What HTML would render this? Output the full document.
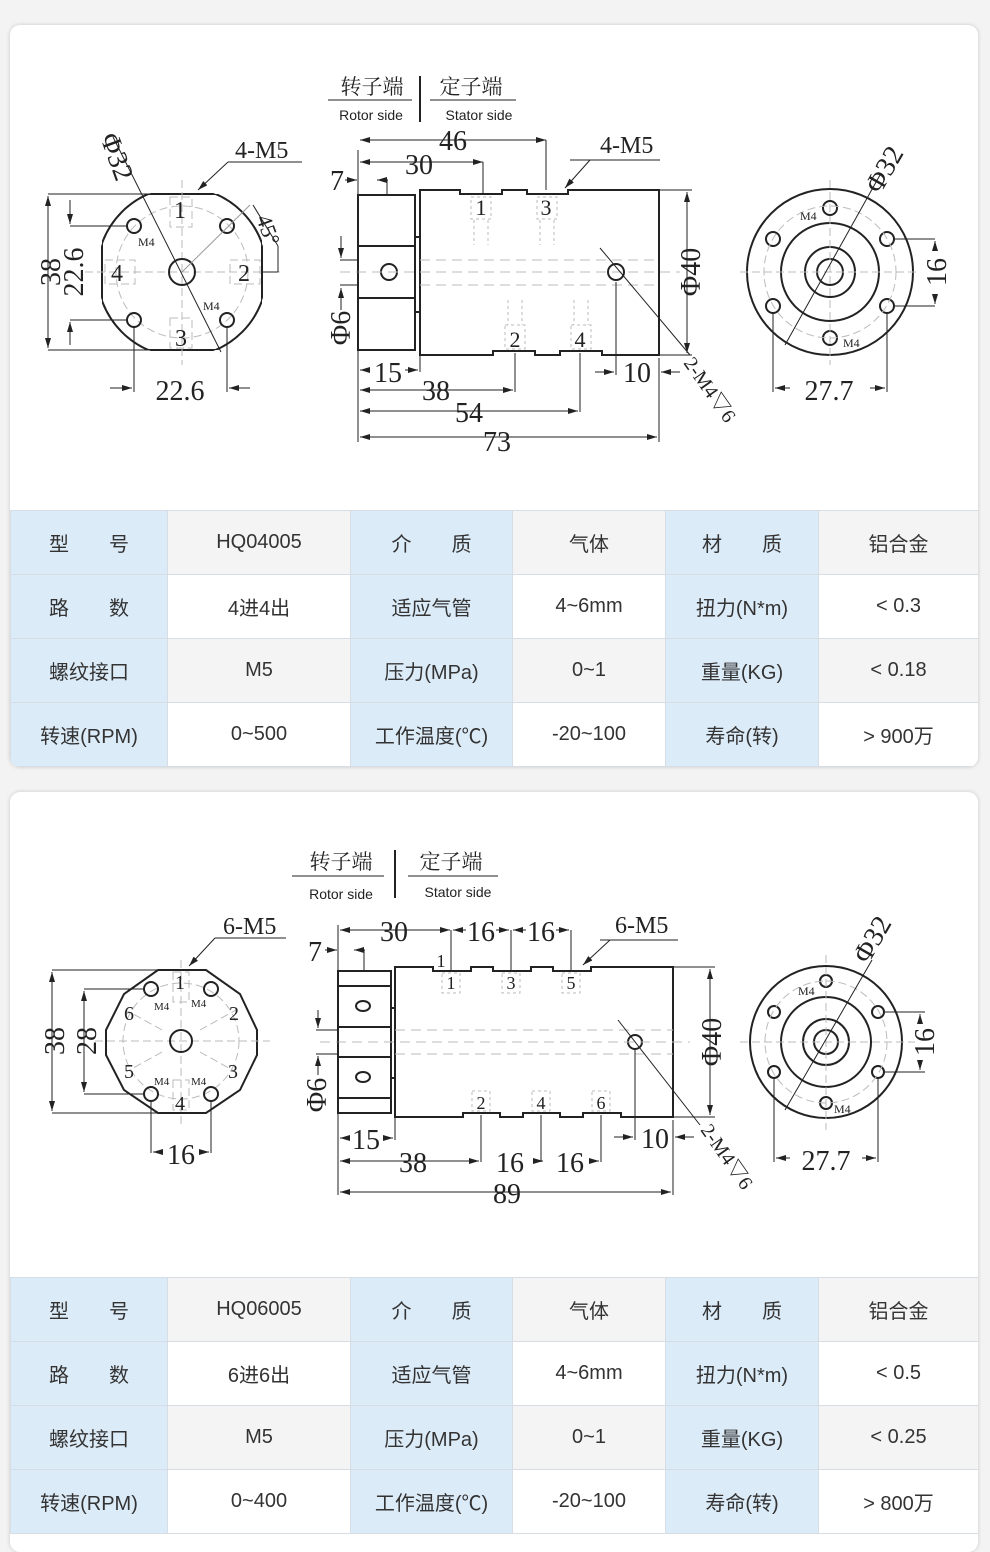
<!DOCTYPE html>
<html><head><meta charset="utf-8"><style>
body{margin:0;width:990px;height:1533px;background:#f3f3f3;position:relative;overflow:hidden;font-family:"Liberation Sans","Noto Sans CJK SC",sans-serif;}
.card{position:absolute;left:10px;width:968px;background:#fff;border-radius:10px;box-shadow:0 0 4px rgba(0,0,0,.18);overflow:hidden}
table{position:absolute;left:0;width:968px;border-collapse:collapse;table-layout:fixed}
td{height:63px;border:1px solid #d6dde4;text-align:center;font-size:20px;color:#333;padding:0}
td.b{background:#dcebf8}
tr.g td:not(.b){background:#f4f4f4}
svg{position:absolute;left:0;top:0}
svg text{font-family:"Liberation Serif","Noto Serif CJK SC",serif;fill:#222}
</style></head><body>
<div class="card" style="top:25px;height:742px">
<table style="top:485px">
<colgroup><col style="width:157px"><col style="width:183px"><col style="width:162px"><col style="width:153px"><col style="width:153px"><col style="width:160px"></colgroup>
<tr class="g"><td class="b">型&emsp;&emsp;号</td><td>HQ04005</td><td class="b">介&emsp;&emsp;质</td><td>气体</td><td class="b">材&emsp;&emsp;质</td><td>铝合金</td></tr>
<tr><td class="b">路&emsp;&emsp;数</td><td>4进4出</td><td class="b">适应气管</td><td>4~6mm</td><td class="b">扭力(N*m)</td><td>&lt; 0.3</td></tr>
<tr class="g"><td class="b">螺纹接口</td><td>M5</td><td class="b">压力(MPa)</td><td>0~1</td><td class="b">重量(KG)</td><td>&lt; 0.18</td></tr>
<tr><td class="b">转速(RPM)</td><td>0~500</td><td class="b">工作温度(℃)</td><td>-20~100</td><td class="b">寿命(转)</td><td>&gt; 900万</td></tr>
</table></div>
<div class="card" style="top:792px;height:760px">
<table style="top:485px">
<colgroup><col style="width:157px"><col style="width:183px"><col style="width:162px"><col style="width:153px"><col style="width:153px"><col style="width:160px"></colgroup>
<tr class="g"><td class="b">型&emsp;&emsp;号</td><td>HQ06005</td><td class="b">介&emsp;&emsp;质</td><td>气体</td><td class="b">材&emsp;&emsp;质</td><td>铝合金</td></tr>
<tr><td class="b">路&emsp;&emsp;数</td><td>6进6出</td><td class="b">适应气管</td><td>4~6mm</td><td class="b">扭力(N*m)</td><td>&lt; 0.5</td></tr>
<tr class="g"><td class="b">螺纹接口</td><td>M5</td><td class="b">压力(MPa)</td><td>0~1</td><td class="b">重量(KG)</td><td>&lt; 0.25</td></tr>
<tr><td class="b">转速(RPM)</td><td>0~400</td><td class="b">工作温度(℃)</td><td>-20~100</td><td class="b">寿命(转)</td><td>&gt; 800万</td></tr>
</table></div>

<svg width="990" height="1533" viewBox="0 0 990 1533">
<defs>
<marker id="a" viewBox="0 0 10 6" refX="10" refY="3" markerWidth="10" markerHeight="6" orient="auto-start-reverse" markerUnits="userSpaceOnUse"><path d="M0,0L10,3L0,6z" fill="#222"/></marker>
<clipPath id="c1"><circle cx="182" cy="272" r="85"/></clipPath>
<clipPath id="r1"><rect x="102" y="194" width="160" height="156"/></clipPath>
</defs>
<g stroke="#222" fill="none" stroke-width="1">
<line x1="420" y1="76" x2="420" y2="122" stroke-width="2"/>
<line x1="328" y1="100" x2="412" y2="100"/><line x1="430" y1="100" x2="516" y2="100"/>
<g stroke-width="2"><rect x="102" y="194" width="160" height="156" clip-path="url(#c1)"/><circle cx="182" cy="272" r="85" clip-path="url(#r1)"/></g>
<g stroke="#bbb" stroke-dasharray="8,4"><circle cx="182" cy="272" r="66"/><line x1="85" y1="272" x2="280" y2="272"/><line x1="182" y1="180" x2="182" y2="365"/>
<rect x="170" y="197" width="22" height="30"/><rect x="170" y="318" width="22" height="30"/><rect x="105" y="260" width="30" height="24"/><rect x="230" y="260" width="30" height="24"/></g>
<g stroke-width="2"><circle cx="182" cy="272" r="13"/><circle cx="134" cy="226" r="7"/><circle cx="227" cy="226" r="7"/><circle cx="134" cy="320" r="7"/><circle cx="227" cy="320" r="7"/></g>
<line x1="113" y1="137" x2="221" y2="352"/><line x1="182" y1="272" x2="250" y2="205" stroke="#999"/>
<line x1="48" y1="194" x2="160" y2="194"/><line x1="48" y1="350" x2="160" y2="350"/><line x1="48" y1="196" x2="48" y2="348" marker-start="url(#a)" marker-end="url(#a)"/>
<line x1="70" y1="226" x2="128" y2="226"/><line x1="70" y1="320" x2="128" y2="320"/><line x1="70" y1="200" x2="70" y2="224" marker-end="url(#a)"/><line x1="70" y1="345" x2="70" y2="322" marker-end="url(#a)"/>
<line x1="134" y1="326" x2="134" y2="392"/><line x1="227" y1="326" x2="227" y2="392"/><line x1="110" y1="388" x2="132" y2="388" marker-end="url(#a)"/><line x1="250" y1="388" x2="229" y2="388" marker-end="url(#a)"/>
<line x1="302" y1="162" x2="228" y2="162"/><line x1="228" y1="162" x2="198" y2="190" marker-end="url(#a)"/>
<line x1="253" y1="205" x2="278" y2="246"/><line x1="278" y1="246" x2="278" y2="272"/><line x1="262" y1="272" x2="278" y2="272"/>
<g stroke-width="2"><rect x="358" y="195" width="57" height="155"/><line x1="358" y1="246" x2="415" y2="246"/><line x1="358" y1="298" x2="415" y2="298"/>
<path d="M415,237h4M415,312h4"/>
<path d="M420,190H460V194H502V190H527V194H568V190H659V355H602V351H560V355H535V351H493V355H420Z"/>
<circle cx="389" cy="272" r="8"/><circle cx="616" cy="272" r="8"/></g>
<g stroke="#bbb" stroke-dasharray="10,6"><line x1="340" y1="272" x2="680" y2="272"/><line x1="420" y1="260" x2="659" y2="260"/><line x1="420" y1="285" x2="659" y2="285"/></g>
<g stroke="#bbb" stroke-dasharray="3,3"><rect x="471" y="197" width="20" height="22"/><rect x="537" y="197" width="20" height="22"/><rect x="505" y="325" width="20" height="24"/><rect x="571" y="325" width="20" height="24"/>
<path d="M474,220v25M488,220v25M540,220v25M554,220v25M508,300v25M522,300v25M574,300v25M588,300v25"/></g>
<line x1="600" y1="248" x2="690" y2="355"/>
<line x1="358" y1="150" x2="358" y2="442"/><line x1="659" y1="358" x2="659" y2="442"/>
<line x1="360" y1="140" x2="546" y2="140" marker-start="url(#a)" marker-end="url(#a)"/><line x1="546" y1="140" x2="546" y2="190"/>
<line x1="360" y1="162" x2="483" y2="162" marker-start="url(#a)" marker-end="url(#a)"/><line x1="483" y1="162" x2="483" y2="194"/>
<line x1="345" y1="180" x2="357" y2="180" marker-end="url(#a)"/><line x1="388" y1="180" x2="377" y2="180" marker-end="url(#a)"/><line x1="387" y1="180" x2="387" y2="195"/>
<line x1="660" y1="190" x2="692" y2="190"/><line x1="660" y1="355" x2="692" y2="355"/><line x1="687" y1="192" x2="687" y2="353" marker-start="url(#a)" marker-end="url(#a)"/>
<line x1="341" y1="236" x2="341" y2="258" marker-end="url(#a)"/><line x1="341" y1="310" x2="341" y2="288" marker-end="url(#a)"/><line x1="340" y1="260" x2="358" y2="260"/><line x1="340" y1="285" x2="358" y2="285"/>
<line x1="420" y1="355" x2="420" y2="372"/><line x1="360" y1="370" x2="370" y2="370" marker-start="url(#a)"/><line x1="405" y1="370" x2="418" y2="370" marker-end="url(#a)"/>
<line x1="515" y1="353" x2="515" y2="392"/><line x1="360" y1="390" x2="513" y2="390" marker-start="url(#a)" marker-end="url(#a)"/>
<line x1="580" y1="353" x2="580" y2="412"/><line x1="360" y1="411" x2="578" y2="411" marker-start="url(#a)" marker-end="url(#a)"/>
<line x1="360" y1="437" x2="657" y2="437" marker-start="url(#a)" marker-end="url(#a)"/>
<line x1="616" y1="282" x2="616" y2="375"/><line x1="595" y1="372" x2="614" y2="372" marker-end="url(#a)"/><line x1="680" y1="372" x2="661" y2="372" marker-end="url(#a)"/>
<line x1="570" y1="160" x2="660" y2="160"/><line x1="590" y1="160" x2="565" y2="188" marker-end="url(#a)"/>
<g stroke-width="2"><circle cx="830" cy="272" r="83"/><circle cx="830" cy="272" r="49"/><circle cx="830" cy="272" r="25"/><circle cx="830" cy="272" r="13"/>
<circle cx="830" cy="208" r="7"/><circle cx="773" cy="239" r="7"/><circle cx="887" cy="239" r="7"/><circle cx="773" cy="306" r="7"/><circle cx="887" cy="306" r="7"/><circle cx="830" cy="338" r="7"/></g>
<g stroke="#bbb" stroke-dasharray="8,4"><circle cx="830" cy="272" r="66"/><line x1="740" y1="272" x2="920" y2="272"/><line x1="830" y1="180" x2="830" y2="365"/></g>
<line x1="785" y1="345" x2="880" y2="175"/>
<line x1="773" y1="312" x2="773" y2="392"/><line x1="887" y1="312" x2="887" y2="392"/><line x1="775" y1="388" x2="790" y2="388" marker-start="url(#a)"/><line x1="870" y1="388" x2="885" y2="388" marker-end="url(#a)"/>
<line x1="893" y1="239" x2="935" y2="239"/><line x1="893" y1="306" x2="935" y2="306"/><line x1="935" y1="248" x2="935" y2="241" marker-end="url(#a)"/><line x1="935" y1="296" x2="935" y2="304" marker-end="url(#a)"/>

<line x1="395" y1="850" x2="395" y2="898" stroke-width="2"/>
<line x1="292" y1="876" x2="384" y2="876"/><line x1="408" y1="876" x2="498" y2="876"/>
<path stroke-width="2" d="M158,970H206L240,994L257,1030V1055L240,1090L206,1113H158L124,1090L106,1055V1030L124,994Z"/>
<g stroke="#bbb" stroke-dasharray="8,4"><circle cx="181" cy="1041" r="58"/><line x1="95" y1="1041" x2="270" y2="1041"/><line x1="181" y1="960" x2="181" y2="1125"/>
<rect x="173" y="972" width="16" height="30"/><rect x="173" y="1080" width="16" height="30"/>
<line x1="200" y1="1030" x2="236" y2="1010"/><line x1="200" y1="1052" x2="236" y2="1072"/><line x1="162" y1="1030" x2="126" y2="1010"/><line x1="162" y1="1052" x2="126" y2="1072"/></g>
<g stroke-width="2"><circle cx="181" cy="1041" r="11"/><circle cx="151" cy="989" r="7"/><circle cx="211" cy="989" r="7"/><circle cx="151" cy="1094" r="7"/><circle cx="211" cy="1094" r="7"/></g>
<line x1="52" y1="970" x2="158" y2="970"/><line x1="52" y1="1113" x2="158" y2="1113"/><line x1="52" y1="972" x2="52" y2="1111" marker-start="url(#a)" marker-end="url(#a)"/>
<line x1="84" y1="989" x2="144" y2="989"/><line x1="84" y1="1094" x2="144" y2="1094"/><line x1="84" y1="991" x2="84" y2="1092" marker-start="url(#a)" marker-end="url(#a)"/>
<line x1="151" y1="1100" x2="151" y2="1153"/><line x1="211" y1="1100" x2="211" y2="1153"/><line x1="153" y1="1152" x2="162" y2="1152" marker-start="url(#a)"/><line x1="200" y1="1152" x2="209" y2="1152" marker-end="url(#a)"/>
<line x1="286" y1="938" x2="215" y2="938"/><line x1="215" y1="938" x2="189" y2="966" marker-end="url(#a)"/>
<g stroke-width="2"><rect x="338" y="971" width="53" height="142"/><path d="M338,986H391M338,1027H391M338,1057H391M338,1098H391M391,1008h4M391,1078h4"/>
<path d="M395,967H433V971H471V967H493V971H531V967H553V971H591V967H673V1117H621V1113H583V1117H560V1113H523V1117H500V1113H463V1117H395Z"/>
<ellipse cx="363" cy="1006" rx="7" ry="5"/><ellipse cx="363" cy="1077" rx="7" ry="5"/><circle cx="635" cy="1042" r="7"/></g>
<g stroke="#bbb" stroke-dasharray="10,6"><line x1="320" y1="1042" x2="690" y2="1042"/><line x1="395" y1="1030" x2="673" y2="1030"/><line x1="395" y1="1054" x2="673" y2="1054"/></g>
<g stroke="#bbb" stroke-dasharray="3,3"><rect x="442" y="973" width="18" height="20"/><rect x="502" y="973" width="18" height="20"/><rect x="562" y="973" width="18" height="20"/><rect x="472" y="1091" width="18" height="20"/><rect x="532" y="1091" width="18" height="20"/><rect x="592" y="1091" width="18" height="20"/></g>
<line x1="618" y1="1020" x2="700" y2="1125"/>
<line x1="338" y1="925" x2="338" y2="1195"/><line x1="673" y1="1120" x2="673" y2="1195"/>
<line x1="340" y1="930" x2="450" y2="930" marker-start="url(#a)" marker-end="url(#a)"/><line x1="451" y1="930" x2="451" y2="970"/><line x1="511" y1="930" x2="511" y2="970"/><line x1="571" y1="930" x2="571" y2="970"/>
<line x1="453" y1="930" x2="466" y2="930" marker-start="url(#a)"/><line x1="496" y1="930" x2="509" y2="930" marker-end="url(#a)"/><line x1="513" y1="930" x2="526" y2="930" marker-start="url(#a)"/><line x1="556" y1="930" x2="569" y2="930" marker-end="url(#a)"/>
<line x1="325" y1="950" x2="337" y2="950" marker-end="url(#a)"/><line x1="365" y1="950" x2="354" y2="950" marker-end="url(#a)"/><line x1="364" y1="950" x2="364" y2="971"/>
<line x1="674" y1="967" x2="715" y2="967"/><line x1="674" y1="1117" x2="715" y2="1117"/><line x1="710" y1="969" x2="710" y2="1115" marker-start="url(#a)" marker-end="url(#a)"/>
<line x1="318" y1="1010" x2="318" y2="1028" marker-end="url(#a)"/><line x1="318" y1="1075" x2="318" y2="1056" marker-end="url(#a)"/><line x1="316" y1="1030" x2="338" y2="1030"/><line x1="316" y1="1054" x2="338" y2="1054"/>
<line x1="395" y1="1117" x2="395" y2="1140"/><line x1="340" y1="1138" x2="348" y2="1138" marker-start="url(#a)"/><line x1="384" y1="1138" x2="393" y2="1138" marker-end="url(#a)"/>
<line x1="481" y1="1115" x2="481" y2="1162"/><line x1="541" y1="1115" x2="541" y2="1162"/><line x1="601" y1="1115" x2="601" y2="1162"/>
<line x1="340" y1="1161" x2="479" y2="1161" marker-start="url(#a)" marker-end="url(#a)"/><line x1="543" y1="1161" x2="539" y2="1161" marker-start="url(#a)"/><line x1="590" y1="1161" x2="599" y2="1161" marker-end="url(#a)"/>
<line x1="340" y1="1192" x2="671" y2="1192" marker-start="url(#a)" marker-end="url(#a)"/>
<line x1="635" y1="1050" x2="635" y2="1140"/><line x1="614" y1="1137" x2="633" y2="1137" marker-end="url(#a)"/><line x1="694" y1="1137" x2="675" y2="1137" marker-end="url(#a)"/>
<line x1="600" y1="940" x2="678" y2="940"/><line x1="610" y1="940" x2="583" y2="965" marker-end="url(#a)"/>
<g stroke-width="2"><circle cx="826" cy="1042" r="76"/><circle cx="826" cy="1042" r="45"/><circle cx="826" cy="1042" r="23"/><circle cx="826" cy="1042" r="12"/>
<circle cx="826" cy="981" r="6"/><circle cx="774" cy="1012" r="6"/><circle cx="878" cy="1012" r="6"/><circle cx="774" cy="1072" r="6"/><circle cx="878" cy="1072" r="6"/><circle cx="826" cy="1103" r="6"/></g>
<g stroke="#bbb" stroke-dasharray="8,4"><circle cx="826" cy="1042" r="61"/><line x1="740" y1="1042" x2="915" y2="1042"/><line x1="826" y1="955" x2="826" y2="1130"/></g>
<line x1="785" y1="1110" x2="872" y2="960"/>
<line x1="774" y1="1078" x2="774" y2="1162"/><line x1="878" y1="1078" x2="878" y2="1162"/><line x1="776" y1="1158" x2="790" y2="1158" marker-start="url(#a)"/><line x1="862" y1="1158" x2="876" y2="1158" marker-end="url(#a)"/>
<line x1="884" y1="1012" x2="925" y2="1012"/><line x1="884" y1="1072" x2="925" y2="1072"/><line x1="920" y1="1020" x2="920" y2="1014" marker-end="url(#a)"/><line x1="920" y1="1064" x2="920" y2="1070" marker-end="url(#a)"/>
</g>

<g font-size="28">
<text x="372" y="94" font-size="21" text-anchor="middle" style="font-family:'Noto Serif CJK SC',serif">转子端</text>
<text x="471" y="94" font-size="21" text-anchor="middle" style="font-family:'Noto Serif CJK SC',serif">定子端</text>
<text x="371" y="120" font-size="14" text-anchor="middle" style="font-family:'Liberation Sans',sans-serif">Rotor side</text>
<text x="479" y="120" font-size="14" text-anchor="middle" style="font-family:'Liberation Sans',sans-serif">Stator side</text>
<text x="235" y="158" font-size="24">4-M5</text>
<text transform="translate(100,137) rotate(70)" font-size="28">Φ32</text>
<text transform="translate(256,218) rotate(70)" font-size="22">45°</text>
<text transform="translate(60,272) rotate(-90)" text-anchor="middle">38</text>
<text transform="translate(83,272) rotate(-90)" text-anchor="middle">22.6</text>
<text x="180" y="218" font-size="24" text-anchor="middle">1</text><text x="244" y="281" font-size="24" text-anchor="middle">2</text><text x="181" y="346" font-size="24" text-anchor="middle">3</text><text x="117" y="281" font-size="24" text-anchor="middle">4</text>
<text x="138" y="246" font-size="12">M4</text><text x="203" y="310" font-size="12">M4</text>
<text x="180" y="400" text-anchor="middle">22.6</text>
<text x="453" y="150" text-anchor="middle">46</text><text x="419" y="174" text-anchor="middle">30</text><text x="337" y="190" text-anchor="middle">7</text>
<text x="600" y="153" font-size="24">4-M5</text>
<text x="481" y="215" font-size="22" text-anchor="middle">1</text><text x="546" y="215" font-size="22" text-anchor="middle">3</text><text x="515" y="347" font-size="22" text-anchor="middle">2</text><text x="580" y="347" font-size="22" text-anchor="middle">4</text>
<text transform="translate(700,272) rotate(-90)" text-anchor="middle">Φ40</text>
<text transform="translate(350,328) rotate(-90)" text-anchor="middle">Φ6</text>
<text x="388" y="382" text-anchor="middle">15</text><text x="436" y="400" text-anchor="middle">38</text><text x="469" y="422" text-anchor="middle">54</text><text x="497" y="451" text-anchor="middle">73</text>
<text x="637" y="382" text-anchor="middle">10</text>
<text transform="translate(683,363) rotate(55)" font-size="20">2-M4▽6</text>
<text transform="translate(880,195) rotate(-60)">Φ32</text>
<text x="800" y="220" font-size="12">M4</text><text x="843" y="347" font-size="12">M4</text>
<text x="829" y="400" text-anchor="middle">27.7</text>
<text transform="translate(946,272) rotate(-90)" text-anchor="middle">16</text>
</g>
<g font-size="28">
<text x="341" y="869" font-size="21" text-anchor="middle" style="font-family:'Noto Serif CJK SC',serif">转子端</text>
<text x="451" y="869" font-size="21" text-anchor="middle" style="font-family:'Noto Serif CJK SC',serif">定子端</text>
<text x="341" y="899" font-size="14" text-anchor="middle" style="font-family:'Liberation Sans',sans-serif">Rotor side</text>
<text x="458" y="897" font-size="14" text-anchor="middle" style="font-family:'Liberation Sans',sans-serif">Stator side</text>
<text x="223" y="934" font-size="24">6-M5</text>
<text transform="translate(64,1041) rotate(-90)" text-anchor="middle">38</text>
<text transform="translate(96,1041) rotate(-90)" text-anchor="middle">28</text>
<text x="180" y="989" font-size="20" text-anchor="middle">1</text><text x="234" y="1020" font-size="20" text-anchor="middle">2</text><text x="233" y="1078" font-size="20" text-anchor="middle">3</text><text x="180" y="1110" font-size="20" text-anchor="middle">4</text><text x="129" y="1078" font-size="20" text-anchor="middle">5</text><text x="129" y="1020" font-size="20" text-anchor="middle">6</text>
<text x="154" y="1010" font-size="11">M4</text><text x="191" y="1007" font-size="11">M4</text><text x="154" y="1085" font-size="11">M4</text><text x="191" y="1085" font-size="11">M4</text>
<text x="181" y="1164" text-anchor="middle">16</text>
<text x="394" y="941" text-anchor="middle">30</text><text x="481" y="941" text-anchor="middle">16</text><text x="541" y="941" text-anchor="middle">16</text><text x="315" y="961" text-anchor="middle">7</text>
<text x="615" y="933" font-size="24">6-M5</text>
<text x="441" y="967" font-size="18" text-anchor="middle">1</text>
<text x="451" y="989" font-size="18" text-anchor="middle">1</text><text x="511" y="989" font-size="18" text-anchor="middle">3</text><text x="571" y="989" font-size="18" text-anchor="middle">5</text><text x="481" y="1109" font-size="18" text-anchor="middle">2</text><text x="541" y="1109" font-size="18" text-anchor="middle">4</text><text x="601" y="1109" font-size="18" text-anchor="middle">6</text>
<text transform="translate(721,1042) rotate(-90)" text-anchor="middle">Φ40</text>
<text transform="translate(326,1095) rotate(-90)" text-anchor="middle">Φ6</text>
<text x="366" y="1149" text-anchor="middle">15</text><text x="413" y="1172" text-anchor="middle">38</text><text x="510" y="1172" text-anchor="middle">16</text><text x="570" y="1172" text-anchor="middle">16</text><text x="507" y="1203" text-anchor="middle">89</text>
<text x="655" y="1148" text-anchor="middle">10</text>
<text transform="translate(700,1130) rotate(55)" font-size="20">2-M4▽6</text>
<text transform="translate(868,965) rotate(-60)">Φ32</text>
<text x="798" y="995" font-size="12">M4</text><text x="834" y="1113" font-size="12">M4</text>
<text x="826" y="1170" text-anchor="middle">27.7</text>
<text transform="translate(934,1042) rotate(-90)" text-anchor="middle">16</text>
</g>
</svg>
</body></html>
